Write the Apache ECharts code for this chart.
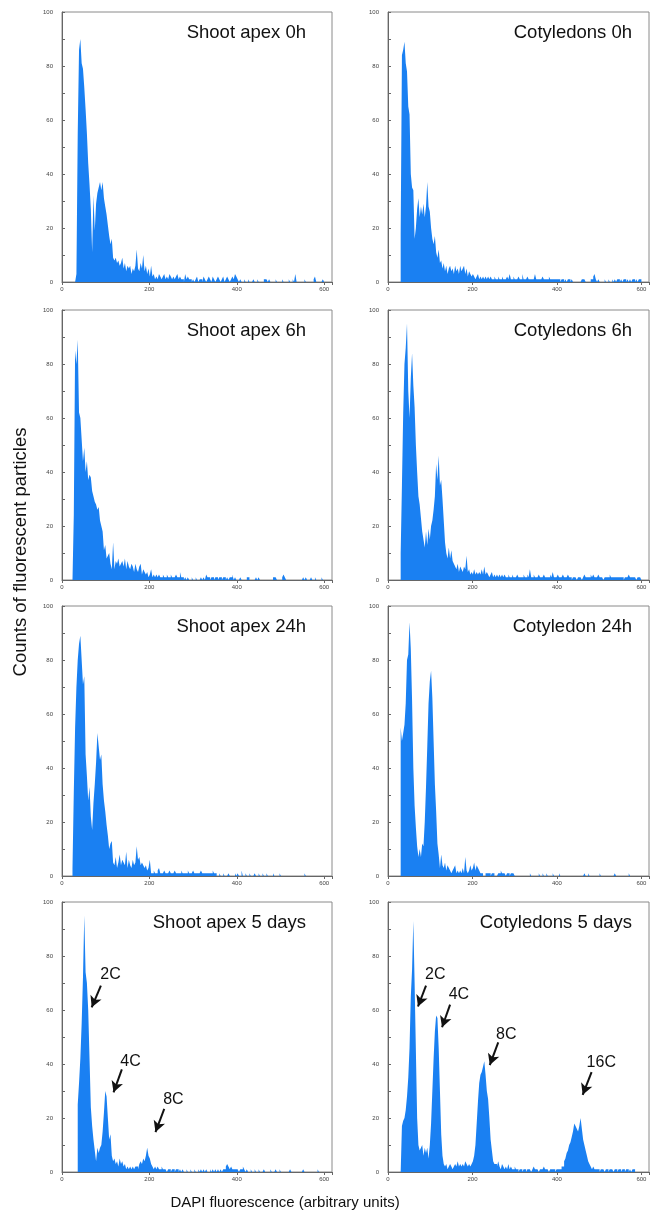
<!DOCTYPE html>
<html>
<head>
<meta charset="utf-8">
<title>DAPI fluorescence histograms</title>
<script src="https://cdn.jsdelivr.net/npm/echarts@6/dist/echarts.min.js"></script>
<style>
  html, body { margin: 0; padding: 0; background: #fff; }
  #chart { width: 652px; height: 1213px; }
</style>
</head>
<body>
<div id="chart"></div>
<script>
  // histogram bins: value i covers [binStart + i*binWidth, binStart + (i+1)*binWidth)
  const binStart = 24;
  const binWidth = 3;

  const shootApex0h = [
    0, 0, 0, 3, 55, 86, 90, 81, 79, 72,
    64, 55, 44, 36, 27, 11, 32, 19, 29, 33,
    35, 37, 34, 37, 31, 28, 25, 21, 17, 14,
    16, 9, 8, 9, 7, 8, 6, 7, 9, 5,
    7, 4, 6, 5, 6, 3, 5, 4, 6, 12,
    5, 4, 7, 5, 10, 4, 6, 3, 5, 2,
    6, 2, 3, 1, 2, 1, 3, 2, 1, 2,
    3, 1, 2, 1, 3, 2, 1, 2, 1, 2,
    3, 1, 2, 1, 1, 0, 3, 1, 2, 1,
    1, 0, 1, 0, 1, 2, 0, 1, 1, 0,
    2, 1, 0, 1, 2, 1, 0, 2, 1, 0,
    1, 2, 1, 0, 1, 2, 0, 1, 2, 1,
    0, 1, 2, 1, 3, 2, 1, 0, 1, 0,
    0, 1, 0, 0, 1, 0, 0, 0, 1, 0,
    0, 1, 0, 0, 0, 0, 1, 1, 1, 0,
    1, 0, 0, 0, 0, 1, 0, 0, 0, 0,
    1, 0, 0, 0, 0, 1, 0, 0, 1, 0,
    3, 0, 0, 0, 0, 0, 0, 1, 0, 0,
    0, 0, 0, 0, 1, 2, 0, 0, 0, 0,
    0, 1, 0
  ];
  const cotyledons0h = [
    0, 0, 18, 84, 86, 89, 81, 78, 65, 62,
    40, 35, 34, 16, 20, 27, 31, 24, 28, 25,
    29, 24, 28, 37, 28, 26, 20, 16, 14, 17,
    11, 9, 12, 7, 8, 5, 7, 4, 6, 3,
    5, 6, 4, 5, 3, 6, 4, 5, 3, 6,
    4, 5, 6, 3, 5, 2, 4, 3, 2, 3,
    2, 1, 2, 3, 1, 2, 1, 2, 1, 2,
    1, 2, 1, 2, 1, 1, 2, 1, 1, 2,
    1, 1, 2, 1, 1, 1, 2, 1, 3, 1,
    1, 2, 1, 1, 1, 2, 1, 1, 3, 1,
    1, 1, 2, 1, 1, 1, 1, 1, 3, 1,
    1, 1, 1, 1, 2, 1, 1, 1, 1, 2,
    1, 1, 1, 1, 1, 1, 1, 1, 0, 1,
    1, 0, 1, 0, 1, 1, 0, 1, 0, 0,
    0, 0, 0, 0, 0, 1, 1, 1, 0, 0,
    0, 0, 1, 1, 2, 3, 1, 0, 1, 0,
    0, 0, 0, 1, 0, 0, 1, 0, 0, 1,
    0, 1, 0, 1, 1, 0, 1, 0, 1, 1,
    0, 1, 0, 1, 0, 1, 1, 0, 1, 0,
    1, 1, 0
  ];
  const shootApex6h = [
    0, 24, 85, 80, 89, 62, 60, 52, 44, 49,
    40, 44, 37, 39, 38, 33, 31, 29, 28, 26,
    27, 22, 20, 18, 11, 13, 8, 9, 10, 6,
    4, 14, 4, 7, 6, 8, 5, 6, 7, 5,
    8, 4, 7, 5, 4, 6, 5, 3, 6, 4,
    3, 5, 6, 2, 4, 3, 2, 3, 1, 2,
    4, 1, 2, 1, 2, 1, 2, 1, 1, 2,
    1, 1, 2, 1, 1, 2, 1, 1, 1, 2,
    1, 1, 3, 1, 1, 0, 1, 0, 1, 0,
    0, 1, 0, 0, 1, 0, 0, 0, 1, 0,
    1, 0, 2, 1, 1, 0, 1, 1, 0, 1,
    1, 0, 1, 1, 0, 1, 1, 0, 1, 0,
    1, 1, 2, 0, 1, 0, 0, 0, 1, 0,
    0, 0, 0, 1, 1, 0, 0, 0, 0, 0,
    1, 0, 1, 0, 0, 0, 0, 0, 0, 0,
    0, 0, 0, 1, 1, 1, 0, 0, 0, 0,
    1, 2, 1, 0, 0, 0, 0, 0, 0, 0,
    0, 0, 0, 0, 0, 0, 1, 0, 1, 0,
    0, 0, 1, 0, 0, 1, 0, 0, 0, 0,
    1, 0, 0
  ];
  const cotyledons6h = [
    0, 0, 10, 35, 62, 80, 86, 95, 70, 60,
    75, 84, 72, 64, 50, 40, 31, 28, 23, 18,
    15, 12, 18, 13, 19, 15, 20, 22, 26, 31,
    43, 37, 46, 35, 37, 30, 22, 14, 10, 8,
    12, 8, 11, 7, 6, 5, 4, 6, 3, 5,
    4, 3, 5, 4, 9, 3, 4, 2, 3, 2,
    4, 2, 3, 2, 3, 2, 4, 2, 5, 2,
    3, 2, 1, 2, 3, 1, 2, 1, 2, 1,
    2, 1, 2, 1, 2, 1, 1, 2, 1, 1,
    2, 1, 1, 1, 2, 1, 1, 1, 1, 2,
    1, 1, 2, 1, 4, 1, 1, 2, 1, 1,
    1, 2, 1, 1, 1, 2, 1, 1, 1, 1,
    2, 1, 3, 1, 1, 1, 2, 1, 1, 1,
    2, 1, 1, 1, 2, 1, 1, 0, 1, 1,
    1, 0, 1, 1, 1, 0, 1, 2, 1, 1,
    1, 1, 2, 1, 2, 1, 1, 1, 2, 1,
    1, 1, 0, 1, 1, 1, 1, 2, 1, 1,
    1, 1, 1, 1, 1, 1, 1, 1, 0, 1,
    1, 1, 2, 1, 1, 1, 1, 1, 0, 1,
    1, 1, 0
  ];
  const shootApex24h = [
    3, 31, 55, 70, 80, 86, 89, 80, 71, 74,
    45, 37, 28, 33, 22, 17, 27, 34, 42, 53,
    48, 43, 45, 34, 28, 24, 19, 15, 10, 12,
    13, 5, 4, 7, 3, 5, 8, 4, 6, 5,
    4, 9, 3, 6, 4, 3, 6, 4, 5, 11,
    6, 7, 4, 5, 4, 3, 4, 2, 3, 6,
    1, 1, 2, 1, 1, 2, 3, 1, 1, 1,
    2, 1, 1, 1, 2, 1, 1, 1, 2, 1,
    1, 1, 1, 2, 1, 1, 1, 1, 2, 1,
    1, 1, 2, 1, 1, 1, 1, 1, 2, 1,
    1, 1, 1, 1, 1, 1, 1, 2, 1, 1,
    0, 0, 1, 0, 0, 1, 0, 0, 0, 1,
    0, 0, 0, 0, 1, 0, 1, 0, 0, 2,
    0, 0, 1, 0, 0, 1, 0, 0, 0, 1,
    0, 0, 1, 0, 0, 1, 0, 0, 1, 0,
    0, 0, 0, 1, 0, 0, 0, 0, 1, 0,
    0, 0, 0, 0, 0, 0, 0, 0, 0, 0,
    0, 0, 0, 0, 0, 0, 0, 1, 0, 0,
    0, 0, 0, 0, 0, 0, 0, 0, 0, 0,
    0, 0, 0
  ];
  const cotyledon24h = [
    0, 0, 55, 50, 53, 56, 64, 80, 82, 94,
    84, 65, 40, 26, 18, 11, 7, 10, 7, 12,
    11, 20, 33, 48, 64, 72, 76, 66, 50, 34,
    24, 12, 8, 3, 8, 4, 3, 5, 2, 4,
    3, 2, 1, 2, 3, 4, 1, 2, 1, 2,
    1, 3, 1, 7, 2, 1, 2, 4, 2, 3,
    5, 2, 4, 3, 2, 1, 1, 0, 0, 1,
    1, 1, 1, 0, 1, 1, 0, 0, 0, 1,
    1, 2, 1, 1, 1, 0, 1, 1, 0, 1,
    1, 1, 0, 0, 0, 0, 0, 0, 0, 0,
    0, 0, 0, 0, 1, 0, 0, 0, 0, 0,
    0, 1, 0, 0, 1, 0, 0, 1, 0, 0,
    0, 0, 1, 0, 0, 0, 0, 1, 0, 0,
    0, 0, 0, 0, 0, 0, 0, 0, 0, 0,
    0, 0, 0, 0, 0, 0, 0, 1, 0, 0,
    1, 0, 0, 0, 0, 0, 0, 0, 0, 1,
    0, 0, 0, 0, 0, 0, 0, 0, 0, 0,
    0, 1, 0, 0, 0, 0, 0, 0, 0, 0,
    0, 0, 1, 0, 0, 0, 0, 0, 0, 0,
    0, 0, 0
  ];
  const shootApex5d = [
    0, 0, 0, 0, 25, 33, 42, 55, 72, 95,
    74, 70, 60, 42, 24, 17, 12, 8, 4, 9,
    7, 9, 10, 15, 22, 30, 28, 20, 12, 14,
    6, 4, 5, 3, 4, 2, 5, 3, 4, 2,
    3, 1, 2, 1, 2, 1, 2, 1, 2, 2,
    1, 3, 4, 3, 5, 4, 6, 9, 6, 5,
    3, 2, 1, 2, 1, 2, 1, 1, 2, 1,
    1, 1, 0, 1, 1, 0, 1, 1, 0, 1,
    1, 0, 1, 0, 1, 0, 0, 1, 0, 0,
    1, 0, 0, 1, 0, 0, 1, 0, 1, 0,
    1, 0, 1, 0, 0, 1, 0, 1, 0, 1,
    0, 1, 0, 1, 0, 1, 1, 2, 3, 2,
    1, 2, 1, 1, 1, 1, 1, 0, 1, 1,
    2, 1, 0, 1, 0, 0, 1, 0, 0, 1,
    0, 0, 1, 0, 0, 0, 1, 0, 0, 0,
    0, 1, 0, 0, 0, 1, 0, 0, 1, 0,
    0, 0, 0, 0, 0, 0, 1, 0, 0, 0,
    0, 0, 0, 0, 0, 0, 1, 0, 0, 0,
    0, 0, 0, 0, 0, 0, 0, 1, 0, 0,
    0, 0, 0
  ];
  const cotyledons5d = [
    0, 0, 0, 17, 19, 20, 23, 28, 35, 46,
    65, 75, 93, 70, 45, 20, 10, 8, 9, 10,
    6, 9, 7, 9, 5, 10, 18, 30, 42, 52,
    58, 57, 46, 30, 14, 6, 3, 2, 3, 1,
    2, 3, 2, 1, 2, 3, 2, 4, 2, 3,
    2, 3, 2, 4, 3, 2, 3, 2, 3, 4,
    6, 10, 18, 26, 33, 36, 37, 39, 41, 36,
    30, 27, 20, 12, 8, 4, 3, 3, 2, 4,
    2, 1, 3, 2, 1, 2, 1, 3, 1, 2,
    1, 1, 2, 1, 1, 0, 1, 1, 0, 1,
    1, 0, 1, 1, 1, 0, 1, 2, 1, 1,
    1, 0, 1, 1, 1, 2, 1, 1, 1, 0,
    1, 1, 1, 1, 0, 1, 1, 1, 1, 2,
    2, 4, 5, 7, 8, 10, 11, 13, 15, 18,
    17, 16, 15, 17, 20, 16, 12, 10, 8, 6,
    4, 3, 2, 1, 2, 1, 1, 1, 1, 0,
    1, 1, 1, 0, 1, 1, 0, 1, 1, 1,
    0, 1, 1, 0, 1, 1, 0, 1, 1, 0,
    1, 1, 0, 1, 0, 1, 1, 0, 0, 0,
    0, 0, 0
  ];

  const panelTitles = [
    'Shoot apex 0h', 'Cotyledons 0h',
    'Shoot apex 6h', 'Cotyledons 6h',
    'Shoot apex 24h', 'Cotyledon 24h',
    'Shoot apex 5 days', 'Cotyledons 5 days'
  ];
  const panelData = [
    shootApex0h, cotyledons0h,
    shootApex6h, cotyledons6h,
    shootApex24h, cotyledon24h,
    shootApex5d, cotyledons5d
  ];
  const xTickLabels = [0, 200, 400, 600];
  const yTickLabels = [0, 20, 40, 60, 80, 100];

  // ploidy labels: [text, labelX, labelY, arrowFromX, arrowFromY, arrowToX, arrowToY]
  const apexPeaks = [
    ['2C', 111, 73, 89, 69, 68, 61],
    ['4C', 157, 41, 137, 38, 118, 29.5],
    ['8C', 255, 27, 234, 23.4, 214, 14.8]
  ];
  const cotyledonPeaks = [
    ['2C', 112, 73, 90, 69, 71, 61.3],
    ['4C', 168, 65.6, 147, 62, 128, 53.6],
    ['8C', 280, 51, 261, 48, 241, 39.6],
    ['16C', 505, 40.4, 482, 37, 461, 28.6]
  ];

  const font = '"Liberation Sans", Arial, sans-serif';
  const blue = '#1a80f2';
  const rowTops = [12, 310, 606, 902];
  const colLefts = [62, 388];
  const plotSize = 270;

  const chart = echarts.init(document.getElementById('chart'));

  function toPoints(values) {
    return values.map((v, i) => [binStart + i * binWidth, v]);
  }

  function peakMarks(peaks) {
    return {
      markPoint: {
        silent: true,
        symbol: 'circle',
        symbolSize: 0,
        label: {show: true, position: 'inside', formatter: '{b}', fontSize: 16, color: '#111', fontFamily: font},
        data: peaks.map(p => ({name: p[0], coord: [p[1], p[2]]}))
      },
      markLine: {
        silent: true,
        symbol: ['none', 'arrow'],
        symbolSize: [9, 11],
        label: {show: false},
        lineStyle: {color: '#111', width: 2, type: 'solid'},
        data: peaks.map(p => [{coord: [p[3], p[4]]}, {coord: [p[5], p[6]]}])
      }
    };
  }

  const grid = [], xAxis = [], yAxis = [], series = [], graphic = [];

  panelData.forEach((values, k) => {
    const row = Math.floor(k / 2), col = k % 2;
    const left = colLefts[col], top = rowTops[row];
    grid.push({
      left: left, top: top, width: plotSize, height: plotSize,
      show: true, borderColor: '#8a8a8a', borderWidth: 1, backgroundColor: 'transparent'
    });
    xAxis.push({
      type: 'value', gridIndex: k, min: 0, max: 618, interval: 200, z: 3,
      axisLine: {show: true, onZero: false, lineStyle: {color: '#666', width: 1}},
      axisTick: {show: true, length: 3, lineStyle: {color: '#666'}},
      axisLabel: {
        fontSize: 6, color: '#444', margin: 4, fontFamily: font,
        formatter: v => (xTickLabels.includes(v) ? String(v) : '')
      },
      splitLine: {show: false}
    });
    yAxis.push({
      type: 'value', gridIndex: k, min: 0, max: 100, interval: 10, z: 3,
      axisLine: {show: true, onZero: false, lineStyle: {color: '#666', width: 1}},
      axisTick: {show: true, inside: true, length: 3, lineStyle: {color: '#666'}},
      axisLabel: {
        fontSize: 6, color: '#444', margin: 9, fontFamily: font,
        formatter: v => (yTickLabels.includes(v) ? String(v) : '')
      },
      splitLine: {show: false}
    });
    let s = {
      type: 'line', xAxisIndex: k, yAxisIndex: k,
      data: toPoints(values),
      step: 'end', symbol: 'none', showSymbol: false, silent: true,
      lineStyle: {width: 0},
      areaStyle: {color: blue, opacity: 1}
    };
    if (k === 6) s = Object.assign(s, peakMarks(apexPeaks));
    if (k === 7) s = Object.assign(s, peakMarks(cotyledonPeaks));
    series.push(s);

    graphic.push({
      type: 'text', x: left + 244, y: top + 21, z: 10,
      style: {
        text: panelTitles[k], fontSize: 18.5, fontFamily: font, fill: '#111',
        align: 'right', textAlign: 'right', verticalAlign: 'middle', textVerticalAlign: 'middle'
      }
    });
  });

  graphic.push({
    type: 'text', x: 285, y: 1203,
    style: {
      text: 'DAPI fluorescence (arbitrary units)', fontSize: 15, fontFamily: font, fill: '#111',
      align: 'center', textAlign: 'center', verticalAlign: 'middle', textVerticalAlign: 'middle'
    }
  });
  graphic.push({
    type: 'text', x: 21, y: 552, rotation: Math.PI / 2,
    style: {
      text: 'Counts of fluorescent particles', fontSize: 18.5, fontFamily: font, fill: '#111',
      align: 'center', textAlign: 'center', verticalAlign: 'middle', textVerticalAlign: 'middle'
    }
  });

  chart.setOption({
    animation: false,
    backgroundColor: '#fff',
    grid: grid,
    xAxis: xAxis,
    yAxis: yAxis,
    series: series,
    graphic: graphic
  });
</script>
</body>
</html>
